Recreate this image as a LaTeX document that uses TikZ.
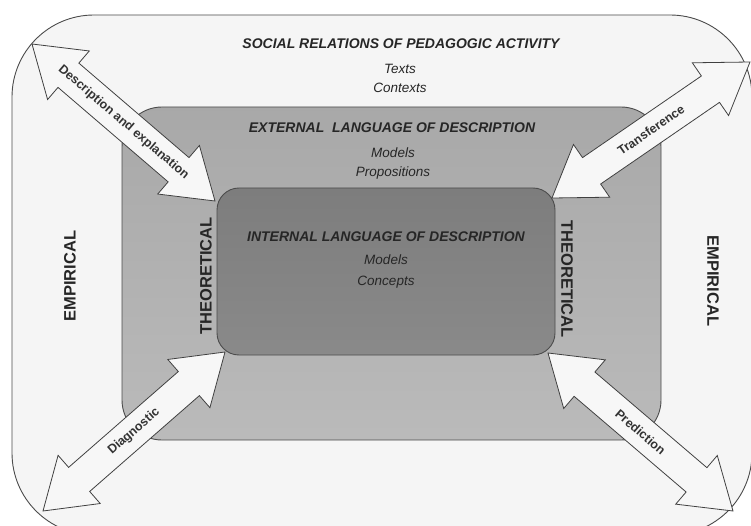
\documentclass[tikz,border=0pt]{standalone}
\usepackage{fontspec}
\setmainfont{Liberation Sans}
\usetikzlibrary{calc}

\begin{document}
\begin{tikzpicture}[x=1pt,y=-1pt,
   zone/.style={draw=black!70,line width=0.9pt},
   head/.style={font=\fontsize{14}{16}\selectfont\bfseries\itshape,anchor=base,text=black!85},
   item/.style={font=\fontsize{13.5}{16}\selectfont\itshape,anchor=base,text=black!85},
   side/.style={font=\fontsize{16.5}{18}\selectfont\bfseries,text=black!85},
   flow/.style={draw=black!75,line width=0.8pt,fill=black!3,line join=miter},
   tag/.style={font=\fontsize{12.5}{14}\selectfont\bfseries,text=black!80}
 ]
  \useasboundingbox (0,0) rectangle (751,526);
  \fill[white] (0,0) rectangle (751,526);
  % nested zones
  \node[zone,fill=black!4,rounded corners=82pt,minimum width=740pt,minimum height=520pt] (social) at (382,275) {};
  \node[zone,top color=black!34,bottom color=black!27,rounded corners=40pt,minimum width=539pt,minimum height=333pt] (external) at (391.5,273.5) {};
  \node[zone,top color=black!51,bottom color=black!46,rounded corners=22pt,minimum width=338pt,minimum height=167pt] (internal) at (386,271.5) {};
  % headings and items
  \node[head] (socialhd) at (401,49) {SOCIAL RELATIONS OF PEDAGOGIC ACTIVITY};
  \node[item] (texts) at (400,74) {Texts};
  \node[item] (contexts) at (400,93) {Contexts};
  \node[head] (exthd) at (392,133) {EXTERNAL~~LANGUAGE OF DESCRIPTION};
  \node[item] (extmodels) at (393,158) {Models};
  \node[item] (props) at (393,177) {Propositions};
  \node[head] (inthd) at (386,242) {INTERNAL LANGUAGE OF DESCRIPTION};
  \node[item] (intmodels) at (386,265) {Models};
  \node[item] (concepts) at (386,285) {Concepts};
  % side labels
  \node[side,rotate=90] (empleft) at (70,276) {EMPIRICAL};
  \node[side,rotate=-90] (empright) at (713,281) {EMPIRICAL};
  \node[side,rotate=90] (theoleft) at (206,276) {THEORETICAL};
  \node[side,rotate=-90] (theoright) at (567,279) {THEORETICAL};
  % arrow tips
  \coordinate (de1) at (32,44);   \coordinate (de2) at (215,201);
  \coordinate (tr1) at (552,198); \coordinate (tr2) at (750,62);
  \coordinate (dg1) at (43,511);  \coordinate (dg2) at (225,352);
  \coordinate (pr1) at (548,353); \coordinate (pr2) at (733,511);
  \foreach \a/\b/\txt in {de1/de2/Description and explanation,tr1/tr2/Transference,dg1/dg2/Diagnostic,pr1/pr2/Prediction}{
    \draw[flow] (\a) -- ($(\a)!48pt!(\b)!32pt!90:(\b)$) -- ($(\a)!48pt!(\b)!16pt!90:(\b)$)
      -- ($(\b)!48pt!(\a)!16pt!-90:(\a)$) -- ($(\b)!48pt!(\a)!32pt!-90:(\a)$) -- (\b)
      -- ($(\b)!48pt!(\a)!32pt!90:(\a)$) -- ($(\b)!48pt!(\a)!16pt!90:(\a)$)
      -- ($(\a)!48pt!(\b)!16pt!-90:(\b)$) -- ($(\a)!48pt!(\b)!32pt!-90:(\b)$) -- cycle;
    \path (\a) -- (\b) node[midway,sloped,tag] (lbl-\a) {\txt};
  }
\end{tikzpicture}
\end{document}
